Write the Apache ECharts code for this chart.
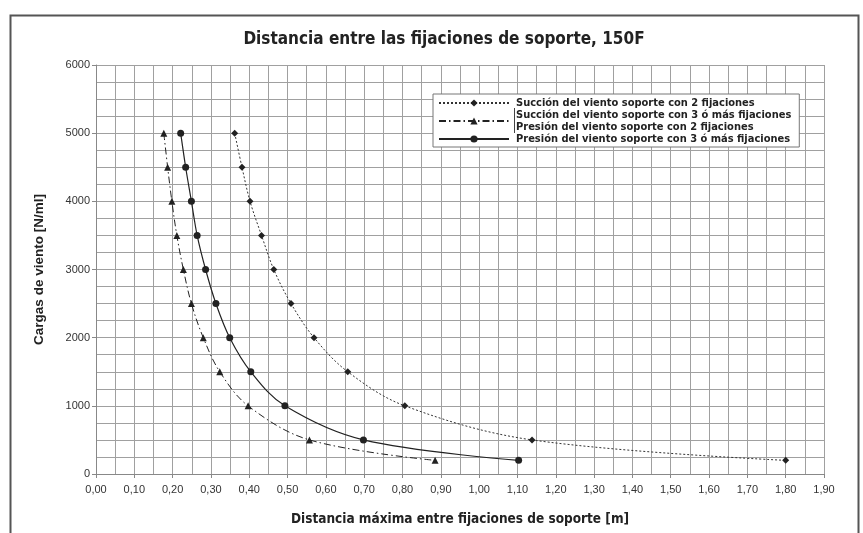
<!DOCTYPE html>
<html>
<head>
<meta charset="utf-8">
<script src="https://cdn.jsdelivr.net/npm/echarts@6/dist/echarts.min.js"></script>
<style>html,body{margin:0;padding:0;background:#fff}#c{width:863px;height:533px}</style>
</head>
<body>
<div id="c"></div>
<script>
const titleText = 'Distancia entre las fijaciones de soporte, 150F';
const xName = 'Distancia máxima entre fijaciones de soporte [m]';
const yName = 'Cargas de viento [N/ml]';
const seriesNames = [
  'Succión del viento soporte con 2 fijaciones',
  'Succión del viento soporte con 3 ó más fijaciones\nPresión del viento soporte con 2 fijaciones',
  'Presión del viento soporte con 3 ó más fijaciones'
];
const loads = [5000, 4500, 4000, 3500, 3000, 2500, 2000, 1500, 1000, 500, 200];
const succion2 = [0.362, 0.381, 0.402, 0.432, 0.464, 0.509, 0.569, 0.657, 0.806, 1.138, 1.800];
const succion3presion2 = [0.177, 0.187, 0.198, 0.211, 0.228, 0.249, 0.280, 0.323, 0.397, 0.557, 0.885];
const presion3 = [0.221, 0.234, 0.249, 0.264, 0.286, 0.313, 0.349, 0.404, 0.493, 0.698, 1.103];

const pair = xs => xs.map((x, i) => [x, loads[i]]);
const narrow = '"DejaVu Sans Condensed", sans-serif';
const arial = '"Liberation Sans", Arial, sans-serif';
const ink = '#222';

const chart = echarts.init(document.getElementById('c'), null, {renderer: 'canvas'});
chart.setOption({
  animation: false,
  backgroundColor: '#fff',
  title: {
    text: titleText, left: 439, top: 26, textAlign: 'center',
    textStyle: {fontFamily: narrow, fontWeight: 'bold', fontSize: 17, color: ink}
  },
  grid: {left: 96, right: 39, top: 65, bottom: 59, containLabel: false},
  legend: {
    orient: 'vertical', left: 433, top: 94,
    backgroundColor: '#fff', borderColor: '#777', borderWidth: 1,
    padding: [3, 8, 2, 5], itemGap: 0, itemWidth: 70, itemHeight: 9,
    textStyle: {fontFamily: narrow, fontWeight: 'bold', fontSize: 11, color: ink, lineHeight: 12, padding: [0, 0, 0, 2]},
    data: seriesNames
  },
  xAxis: {
    type: 'value', min: 0, max: 1.9, interval: 0.1,
    name: xName, nameLocation: 'middle', nameGap: 38,
    nameTextStyle: {fontFamily: narrow, fontWeight: 'bold', fontSize: 13.5, color: ink},
    axisLine: {show: true, lineStyle: {color: '#888'}},
    axisTick: {show: true, length: 4, lineStyle: {color: '#888'}},
    axisLabel: {margin: 10, fontFamily: arial, fontSize: 11, color: '#333',
      formatter: v => v.toFixed(2).replace('.', ',')},
    splitLine: {show: true, lineStyle: {color: '#a0a0a0', width: 1}},
    minorTick: {show: false, splitNumber: 2},
    minorSplitLine: {show: true, lineStyle: {color: '#a0a0a0', width: 1}}
  },
  yAxis: {
    type: 'value', min: 0, max: 6000, interval: 1000,
    name: yName, nameLocation: 'middle', nameGap: 50,
    nameTextStyle: {fontFamily: arial, fontWeight: 'bold', fontSize: 13.5, color: ink},
    axisLine: {show: true, lineStyle: {color: '#888'}},
    axisTick: {show: true, length: 4, lineStyle: {color: '#888'}},
    axisLabel: {margin: 6, fontFamily: arial, fontSize: 11, color: '#333', formatter: v => String(v)},
    splitLine: {show: true, lineStyle: {color: '#a0a0a0', width: 1}},
    minorTick: {show: false, splitNumber: 4},
    minorSplitLine: {show: true, lineStyle: {color: '#a0a0a0', width: 1}}
  },
  series: [
    {
      name: seriesNames[0], type: 'line', data: pair(succion2),
      smooth: 0.35, symbol: 'diamond', symbolSize: 7,
      itemStyle: {color: ink},
      lineStyle: {color: '#333', width: 1, type: [2, 2]}
    },
    {
      name: seriesNames[1], type: 'line', data: pair(succion3presion2),
      smooth: 0.35, symbol: 'triangle', symbolSize: 7,
      itemStyle: {color: ink},
      lineStyle: {color: ink, width: 1, type: [7, 3, 1.5, 3]}
    },
    {
      name: seriesNames[2], type: 'line', data: pair(presion3),
      smooth: 0.35, symbol: 'circle', symbolSize: 7,
      itemStyle: {color: ink},
      lineStyle: {color: ink, width: 1.2, type: 'solid'}
    }
  ],
  graphic: [
    {type: 'rect', left: 8, top: 13, silent: true,
      shape: {width: 848, height: 540},
      style: {fill: 'none', stroke: '#555', lineWidth: 2}},
    {type: 'line', silent: true, z: 100,
      shape: {x1: 514.5, y1: 108, x2: 514.5, y2: 133},
      style: {stroke: '#444', lineWidth: 1}}
  ]
});
</script>
</body>
</html>
